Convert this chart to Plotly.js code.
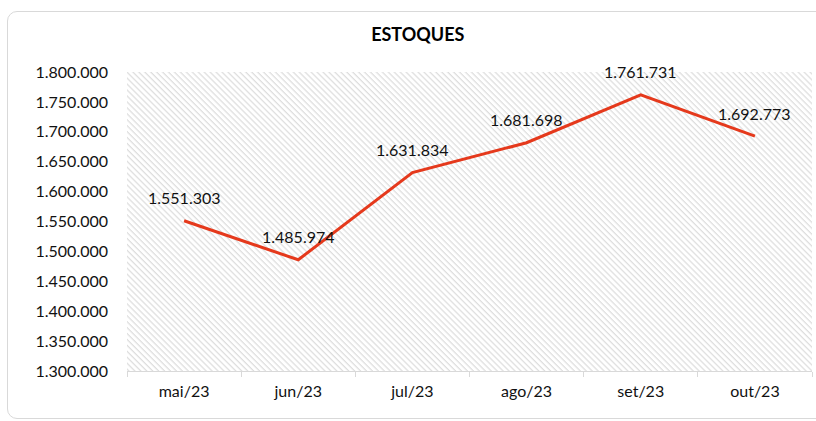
<!DOCTYPE html>
<html>
<head>
<meta charset="utf-8">
<script src="https://cdn.plot.ly/plotly-3.0.1.min.js"></script>
<style>
  html, body { margin: 0; padding: 0; background: #ffffff; overflow: hidden; }
  #chart { position: absolute; left: 0; top: 0; width: 816px; height: 421px; }
  #frame { position: absolute; left: 7px; top: 11px; width: 830px; height: 406px;
           border: 1px solid #d9d9d9; border-radius: 10px; pointer-events: none; }
</style>
</head>
<body>
<div id="chart"></div>
<div id="frame"></div>
<script>
const months = ['mai/23', 'jun/23', 'jul/23', 'ago/23', 'set/23', 'out/23'];
const estoques = [1551303, 1485974, 1631834, 1681698, 1761731, 1692773];
const yTicks = [1300000, 1350000, 1400000, 1450000, 1500000, 1550000, 1600000, 1650000, 1700000, 1750000, 1800000];

const FONT = 'Lato, "Open Sans", "DejaVu Sans", sans-serif';

function fmt(v) {
  return String(v).replace(/\B(?=(\d{3})+(?!\d))/g, '.');
}

const trace = {
  type: 'scatter',
  mode: 'lines',
  x: months,
  y: estoques,
  line: { color: '#E5391C', width: 3 },
  hoverinfo: 'skip',
  cliponaxis: false
};

const labels = months.map(function (m, i) {
  return {
    x: m, y: estoques[i], xref: 'x', yref: 'y',
    text: fmt(estoques[i]),
    showarrow: false,
    yshift: 23,
    xanchor: 'center', yanchor: 'middle',
    font: { family: FONT, size: 16, color: '#111111' }
  };
});

const layout = {
  width: 816,
  height: 421,
  margin: { l: 127, r: 4, t: 72, b: 50 },
  paper_bgcolor: 'rgba(0,0,0,0)',
  plot_bgcolor: '#ffffff',
  separators: ',.',
  showlegend: false,
  font: { family: FONT, size: 16, color: '#111111' },
  title: {
    text: '<b>ESTOQUES</b>',
    font: { family: FONT, size: 18, color: '#000000' },
    xref: 'container', x: 0.512, xanchor: 'center',
    yref: 'container', y: 0.917, yanchor: 'middle'
  },
  annotations: labels,
  xaxis: {
    type: 'category',
    range: [-0.5, 5.5],
    showgrid: false,
    zeroline: false,
    showline: true,
    linecolor: '#d9d9d9',
    linewidth: 1,
    ticks: 'outside',
    tickson: 'boundaries',
    ticklen: 5,
    tickcolor: '#d9d9d9',
    tickfont: { family: FONT, size: 16, color: '#111111' },
    ticklabelstandoff: 6
  },
  yaxis: {
    range: [1300000, 1800000],
    tickvals: yTicks,
    tickformat: ',d',
    showgrid: false,
    zeroline: false,
    showline: false,
    ticks: '',
    tickfont: { family: FONT, size: 16, color: '#111111' },
    ticklabelstandoff: 18
  }
};

Plotly.newPlot('chart', [trace], layout, { staticPlot: true, displayModeBar: false }).then(function () {
  const bg = document.querySelector('#chart .bglayer .bg') || document.querySelector('#chart rect.bg');
  if (!bg) return;
  const svg = bg.ownerSVGElement;
  const NS = 'http://www.w3.org/2000/svg';
  const defs = document.createElementNS(NS, 'defs');
  const pat = document.createElementNS(NS, 'pattern');
  pat.setAttribute('id', 'hatchPattern');
  pat.setAttribute('patternUnits', 'userSpaceOnUse');
  pat.setAttribute('width', '4.2');
  pat.setAttribute('height', '10');
  pat.setAttribute('patternTransform', 'rotate(-45)');
  const r = document.createElementNS(NS, 'rect');
  r.setAttribute('width', '4.2'); r.setAttribute('height', '10'); r.setAttribute('fill', '#ffffff');
  const ln = document.createElementNS(NS, 'line');
  ln.setAttribute('x1', '1'); ln.setAttribute('y1', '0');
  ln.setAttribute('x2', '1'); ln.setAttribute('y2', '10');
  ln.setAttribute('stroke', '#d6d6d6'); ln.setAttribute('stroke-width', '1');
  pat.appendChild(r); pat.appendChild(ln);
  defs.appendChild(pat);
  svg.insertBefore(defs, svg.firstChild);
  bg.style.fill = 'url(#hatchPattern)';
});
</script>
</body>
</html>
